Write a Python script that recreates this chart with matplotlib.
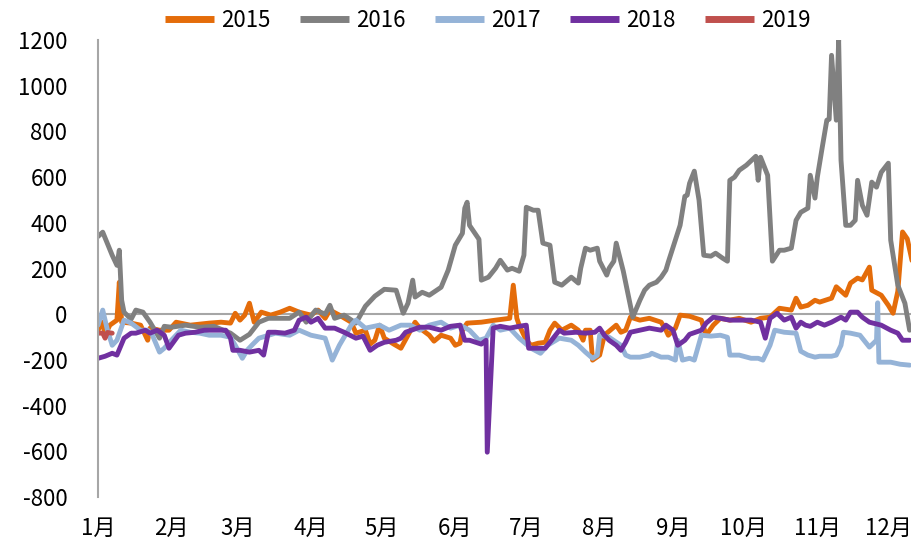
import matplotlib
matplotlib.use("Agg")
import matplotlib.pyplot as plt

plt.rcParams["font.family"] = ["Noto Sans CJK SC", "DejaVu Sans"]
plt.rcParams["axes.unicode_minus"] = False

# day of year (0 = 1 Jan) and value
days_2015 = [0, 2, 3, 5, 8, 9, 10, 14, 18, 21, 22, 26, 30, 33, 39, 47, 52, 56, 58, 60, 62, 64, 66, 69,
             73, 77, 81, 85, 90, 93, 96, 98, 102, 107, 109, 113, 115, 117, 119, 121, 125, 128, 131,
             134, 136, 140, 142, 145, 149, 151, 153, 154, 156, 162, 168, 174, 175.5, 177, 178, 181,
             183, 186, 189, 191, 193, 196, 200, 203, 205, 206, 208, 209, 212, 214, 219, 221, 223, 225,
             229, 233, 238, 240, 241, 244, 246, 250, 255, 257, 260, 263, 267, 271, 276, 280, 284, 288,
             293, 295, 297, 300, 303, 305, 310, 312, 316, 318, 321, 323, 326, 327, 331, 334, 336, 338,
             340, 342, 344]
vals_2015 = [-70, -35, -92, -48, -26, 140, -35, -39, -48, -114, -61, -70, -70, -35, -48, -39, -35, -39,
             4, -26, -4, 48, -35, 9, -4, 9, 26, 9, -4, 18, -18, 18, -4, -35, -83, -70, -131, -114, -48,
             -105, -131, -149, -92, -35, -61, -92, -118, -92, -105, -136, -127, -70, -39, -35, -26, -18,
             127, -18, -48, -114, -136, -127, -123, -70, -39, -70, -48, -70, -114, -70, -70, -201, -179,
             -92, -48, -79, -70, -13, -26, -18, -35, -70, -92, -61, -4, -9, -26, -92, -48, -18, -26, -18,
             -35, -18, -13, 26, 18, 70, 31, 39, 61, 53, 70, 120, 83, 136, 158, 150, 206, 105, 83, 39, 4,
             100, 360, 330, 235]

days_2016 = [0, 2, 6, 8, 9, 10, 11, 14, 16, 19, 22, 24, 26, 28, 31, 37, 43, 49, 56, 60, 64, 68, 72, 77,
             81, 85, 88, 92, 96, 98, 100, 104, 109, 113, 117, 121, 126, 129, 131, 133, 134, 137, 140,
             145, 148, 151, 154, 155, 156, 157, 161, 162, 165, 168, 170, 173, 175, 178, 180, 181, 184,
             186, 188, 191, 193, 196, 200, 203, 204, 206, 208, 211, 212, 215, 216, 218, 219, 222, 226,
             229, 231, 233, 236, 238, 240, 241, 244, 246, 248, 249, 250, 252, 254, 256, 259, 261, 264,
             266, 267, 269, 271, 274, 278, 279, 280, 283, 285, 288, 290, 293, 295, 297, 300, 301, 303,
             304, 306, 308, 309, 310, 312, 313, 314, 316, 318, 320, 321, 323, 325, 327, 329, 331, 334,
             335, 338, 341, 343]
vals_2016 = [340, 359, 258, 214, 280, 61, 9, -22, 18, 9, -35, -70, -105, -53, -57, -48, -57, -53, -83,
             -114, -88, -35, -18, -18, -18, 9, -35, 18, 0, 39, -18, -4, -39, 35, 79, 109, 105, 4, 48,
             149, 75, 96, 83, 118, 193, 302, 354, 464, 490, 389, 328, 149, 162, 201, 236, 193, 201, 188,
             258, 468, 455, 455, 311, 302, 140, 127, 162, 136, 201, 289, 280, 289, 232, 171, 201, 232,
             311, 188, -13, 61, 105, 127, 140, 162, 193, 228, 324, 389, 516, 521, 573, 626, 499, 258,
             254, 267, 245, 232, 586, 600, 630, 652, 691, 586, 687, 608, 232, 280, 280, 289, 411, 446,
             464, 608, 508, 600, 726, 849, 853, 1133, 849, 1200, 674, 389, 389, 411, 586, 477, 433, 578,
             556, 621, 661, 324, 127, 48, -70]

days_2017 = [0, 2, 4, 6, 8, 11, 14, 18, 21, 23, 26, 28, 31, 35, 39, 43, 47, 52, 56, 58, 61, 63, 65, 68,
             75, 81, 85, 90, 96, 99, 102, 107, 109, 113, 119, 123, 128, 132, 136, 140, 145, 149, 153,
             157, 161, 164, 167, 170, 174, 178, 183, 187, 190, 195, 200, 203, 206, 209, 211, 212, 216,
             221, 223, 225, 229, 233, 234, 238, 241, 244, 245, 247, 250, 252, 255, 259, 263, 266, 267,
             271, 276, 279, 281, 284, 286, 290, 295, 297, 300, 303, 305, 310, 312, 314, 315, 318, 322,
             326, 329, 329.5, 330, 335, 339, 343]
vals_2017 = [-48, 18, -70, -136, -114, -26, -39, -70, -70, -92, -166, -149, -114, -70, -79, -83, -92, -92,
             -101, -136, -193, -158, -136, -105, -83, -92, -70, -92, -105, -201, -136, -48, -26, -61, -48,
             -70, -48, -48, -70, -48, -35, -61, -48, -70, -114, -105, -48, -70, -61, -105, -149, -171,
             -136, -105, -114, -136, -166, -193, -180, -92, -101, -136, -179, -188, -188, -179, -171,
             -188, -188, -201, -114, -201, -193, -201, -92, -96, -92, -101, -179, -179, -193, -193, -201,
             -136, -70, -79, -83, -162, -179, -188, -184, -184, -179, -136, -79, -83, -92, -144, -114, 50,
             -210, -210, -219, -223]

days_2018 = [0, 3, 6, 8, 11, 14, 16, 20, 22, 25, 28, 30, 34, 37, 41, 45, 49, 54, 56, 57, 60, 64, 68, 70,
             72, 75, 79, 83, 85, 88, 90, 93, 96, 100, 104, 109, 112, 115, 118, 121, 126, 128, 130, 136,
             140, 145, 149, 153, 155, 157, 162, 164, 164.5, 167, 170, 174, 178, 181, 182, 185, 189, 191,
             195, 197, 202, 206, 210, 212, 214, 216, 219, 221, 223, 225, 229, 233, 238, 240, 243, 245,
             248, 250, 255, 257, 260, 263, 267, 271, 276, 280, 282, 284, 287, 290, 293, 295, 297, 299,
             301, 304, 307, 310, 314, 316, 318, 321, 323, 326, 331, 335, 338, 340, 343]
vals_2018 = [-193, -184, -171, -179, -105, -83, -83, -70, -83, -70, -92, -149, -92, -83, -79, -70, -70, -70,
             -105, -158, -158, -166, -158, -179, -79, -79, -83, -70, -26, -13, -35, -18, -61, -61, -79,
             -105, -96, -158, -136, -123, -114, -105, -79, -57, -57, -70, -53, -48, -114, -114, -131,
             -114, -604, -61, -53, -61, -53, -48, -149, -149, -149, -123, -70, -83, -79, -83, -79, -61,
             -92, -114, -136, -158, -123, -79, -70, -61, -70, -48, -70, -136, -114, -88, -70, -39, -13,
             -18, -26, -26, -26, -35, -105, -18, 4, -26, -13, -61, -35, -48, -53, -35, -48, -35, -13, -26,
             9, 9, -13, -35, -48, -70, -83, -114, -114]

days_2019 = [0, 2, 3, 4, 6]
vals_2019 = [-83, -83, -105, -80, -83]

years = ["2015", "2016", "2017", "2018", "2019"]
colors = ["#E46C0A", "#808080", "#95B3D7", "#7030A0", "#C0504D"]
month_starts = [0, 31, 59, 90, 120, 151, 181, 212, 243, 273, 304, 334]
month_labels = ["1月", "2月", "3月", "4月", "5月", "6月", "7月", "8月", "9月", "10月", "11月", "12月"]
y_ticks = [-800, -600, -400, -200, 0, 200, 400, 600, 800, 1000, 1200]

fig = plt.figure(figsize=(9.12, 5.42), dpi=100)
ax = fig.add_axes([98 / 912, 45 / 542, 1 - 98 / 912, 457 / 542])

series = [(days_2015, vals_2015), (days_2016, vals_2016), (days_2017, vals_2017),
          (days_2018, vals_2018), (days_2019, vals_2019)]
for (d, v), name, c in zip(series, years, colors):
    ax.plot(d, v, color=c, lw=3.5, label=name, solid_joinstyle="round", solid_capstyle="round")

ax.axhline(0, color="#A6A6A6", lw=1.5, zorder=0)

ax.set_xlim(0, 344)
ax.set_ylim(-800, 1200)
ax.set_xticks(month_starts)
ax.set_xticklabels(month_labels)
ax.set_yticks(y_ticks)
ax.tick_params(axis="both", length=0, labelsize=16, colors="black")
ax.tick_params(axis="x", pad=14)
ax.tick_params(axis="y", pad=22)
for s in ["top", "right", "bottom"]:
    ax.spines[s].set_visible(False)
ax.spines["left"].set_color("#A6A6A6")
ax.spines["left"].set_linewidth(1.5)

leg = fig.legend(loc="upper center", bbox_to_anchor=(0.535, 1.02), ncol=5, frameon=False,
                 fontsize=16, handlelength=2.2, columnspacing=1.3, handletextpad=0.35)
for h in leg.get_lines():
    h.set_linewidth(5)
    h.set_solid_capstyle("butt")

fig.savefig("out.png", dpi=100, facecolor="white")
